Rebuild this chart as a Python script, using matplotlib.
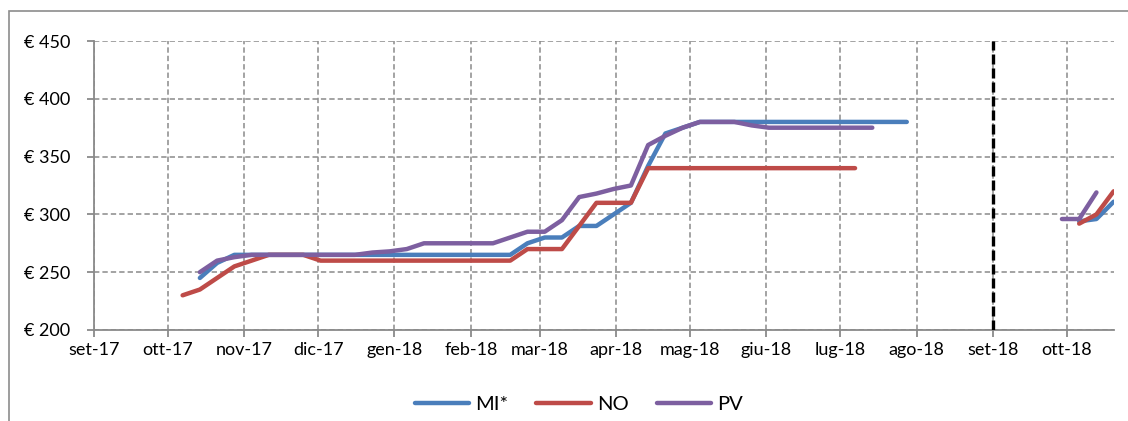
import numpy as np
import pandas as pd
import matplotlib
matplotlib.use('Agg')
import matplotlib.pyplot as plt
from matplotlib.patches import Rectangle

plt.rcParams['font.family'] = ['Lato', 'DejaVu Sans']

# weekly quotes, from 7 Oct 2017
dates = pd.date_range('2017-10-07', periods=55, freq='7D')
nan = np.nan

mi = [nan, 245, 258, 265, 265, 265, 265, 265, 265, 265,
      265, 265, 265, 265, 265, 265, 265, 265, 265, 265,
      275, 280, 280, 290, 290, 300, 310, 342, 370, 375,
      380, 380, 380, 380, 380, 380, 380, 380, 380, 380,
      380, 380, 380, nan, nan, nan, nan, nan, nan, nan,
      nan, nan, 294, 296, 311]
no = [230, 235, 245, 255, 260, 265, 265, 265, 260, 260,
      260, 260, 260, 260, 260, 260, 260, 260, 260, 260,
      270, 270, 270, 290, 310, 310, 310, 340, 340, 340,
      340, 340, 340, 340, 340, 340, 340, 340, 340, 340,
      nan, nan, nan, nan, nan, nan, nan, nan, nan, nan,
      nan, nan, 292, 300, 320]
pv = [nan, 250, 260, 263, 265, 265, 265, 265, 265, 265,
      265, 267, 268, 270, 275, 275, 275, 275, 275, 280,
      285, 285, 295, 315, 318, 322, 325, 360, 368, 375,
      380, 380, 380, 377, 375, 375, 375, 375, 375, 375,
      375, nan, nan, nan, nan, nan, nan, nan, nan, nan,
      nan, 296, 296, 319, nan]

series = [('MI*', mi, '#4A7EBB'), ('NO', no, '#BE4B48'), ('PV', pv, '#7D5FA0')]

month_ticks = pd.date_range('2017-09-01', '2018-10-01', freq='MS')
month_labels = ['set-17', 'ott-17', 'nov-17', 'dic-17', 'gen-18', 'feb-18', 'mar-18',
                'apr-18', 'mag-18', 'giu-18', 'lug-18', 'ago-18', 'set-18', 'ott-18']
season_break = pd.Timestamp('2018-09-01')

fig = plt.figure(figsize=(11.28, 4.21), dpi=100)
ax = fig.add_axes([0.0833, 0.2162, 0.904, 0.6864])

# outer chart frame (only left/top edges visible)
fig.patches.append(Rectangle((9 / 1128, -0.1), 1.2, 1 - 11 / 421 + 0.1,
                             transform=fig.transFigure, fill=False,
                             edgecolor='#8c8c8c', linewidth=1.2))

grid_kw = dict(color='#8a8a8a', linewidth=1.1, linestyle=(0, (3.5, 2)))
ax.grid(True, axis='both', **grid_kw)
ax.set_axisbelow(True)

for name, vals, col in series:
    ax.plot(dates, vals, color=col, linewidth=3.2, label=name,
            solid_capstyle='round', solid_joinstyle='round')

ax.axvline(season_break, color='black', linewidth=2.4, linestyle=(0, (3, 1.2)), zorder=5)

ax.set_ylim(200, 450)
ax.set_yticks([200, 250, 300, 350, 400, 450])
ax.yaxis.set_major_formatter(plt.FuncFormatter(lambda v, p: '€ %d' % v))
ax.set_xlim(pd.Timestamp('2017-09-01'), pd.Timestamp('2018-10-20'))
ax.set_xticks(month_ticks)
ax.set_xticklabels(month_labels)

for s in ['top', 'right']:
    ax.spines[s].set_visible(False)
for s in ['left', 'bottom']:
    ax.spines[s].set_color('#8a8a8a')
    ax.spines[s].set_linewidth(1.3)
ax.tick_params(axis='both', colors='#8a8a8a', length=5, width=1.3, labelsize=13,
               labelcolor='black')
ax.tick_params(axis='y', pad=12)
ax.tick_params(axis='x', pad=4)

fig.legend(loc='center', bbox_to_anchor=(0.513, 0.04), ncol=3, frameon=False,
           fontsize=14.5, handlelength=2.7, handletextpad=0.3, columnspacing=1.4)

fig.savefig('out.png', dpi=100)
